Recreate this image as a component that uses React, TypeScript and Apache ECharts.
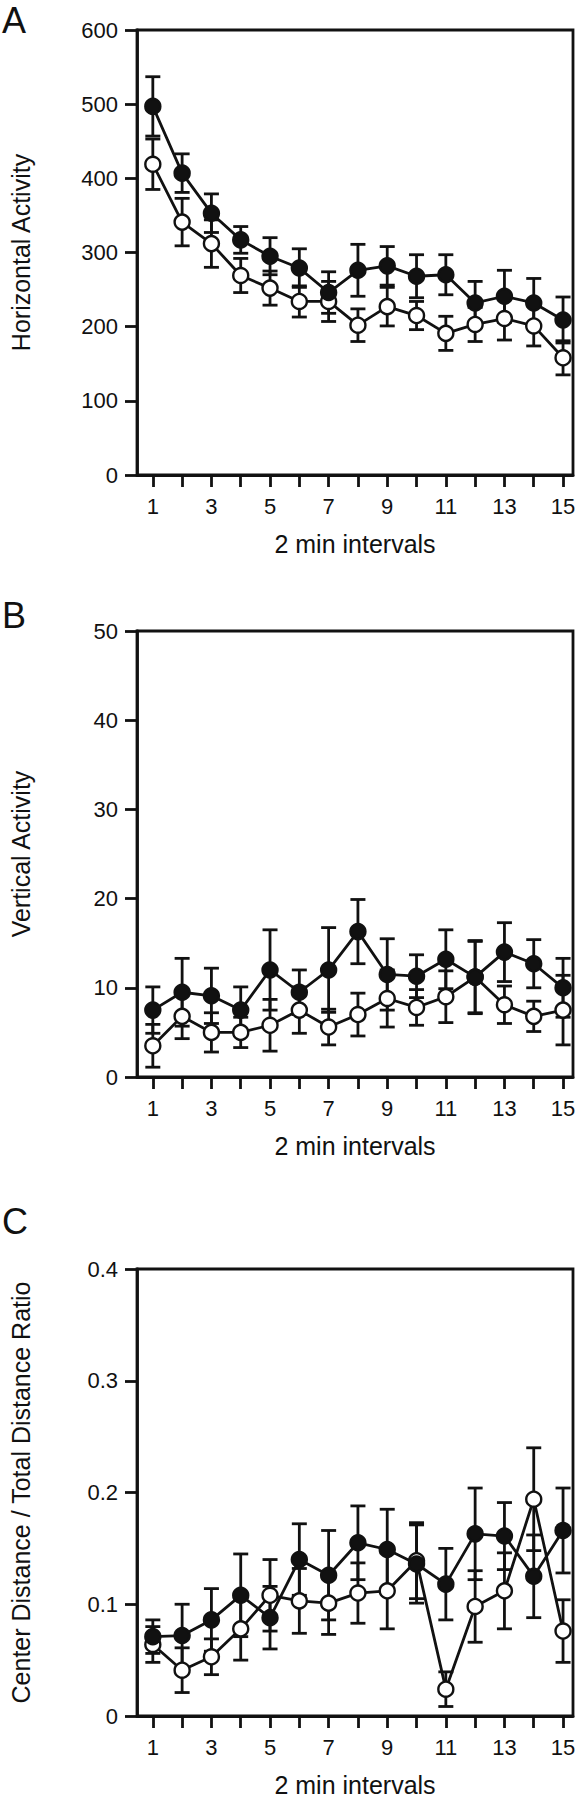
import React, { useEffect, useRef } from "react";
import * as echarts from "echarts";

const intervals = [1, 2, 3, 4, 5, 6, 7, 8, 9, 10, 11, 12, 13, 14, 15];
const oddLabels = [1, 3, 5, 7, 9, 11, 13, 15];

const hFilled = [497, 407, 353, 317, 295, 279, 246, 276, 282, 268, 270, 232, 241, 232, 209];
const hFilledErr = [40, 26, 26, 18, 25, 26, 28, 35, 26, 29, 27, 29, 35, 33, 31];
const hOpen = [419, 341, 312, 269, 252, 234, 234, 202, 227, 215, 191, 203, 211, 201, 158];
const hOpenErr = [34, 32, 32, 23, 23, 21, 27, 22, 26, 19, 23, 23, 29, 27, 23];

const vFilled = [7.5, 9.5, 9.1, 7.5, 12.0, 9.5, 12.0, 16.3, 11.5, 11.3, 13.2, 11.2, 14.0, 12.7, 10.0];
const vFilledErr = [2.6, 3.8, 3.1, 2.6, 4.5, 2.5, 4.75, 3.6, 4.0, 2.4, 3.3, 4.1, 3.3, 2.7, 3.3];
const vOpen = [3.5, 6.8, 5.0, 5.0, 5.8, 7.5, 5.6, 7.0, 8.8, 7.8, 9.0, 11.2, 8.1, 6.8, 7.5];
const vOpenErr = [2.4, 2.5, 2.2, 1.7, 2.9, 2.6, 2.0, 2.4, 3.2, 2.0, 2.9, 4.0, 2.1, 1.7, 3.9];

const cFilled = [0.071, 0.072, 0.086, 0.108, 0.088, 0.14, 0.126, 0.155, 0.149, 0.136, 0.118, 0.163, 0.161, 0.125, 0.166];
const cFilledErr = [0.015, 0.028, 0.028, 0.037, 0.028, 0.032, 0.04, 0.033, 0.036, 0.035, 0.032, 0.041, 0.03, 0.037, 0.038];
const cOpen = [0.064, 0.041, 0.053, 0.078, 0.108, 0.103, 0.101, 0.11, 0.112, 0.139, 0.024, 0.098, 0.112, 0.194, 0.076];
const cOpenErr = [0.016, 0.02, 0.016, 0.028, 0.032, 0.029, 0.028, 0.027, 0.034, 0.034, 0.0155, 0.032, 0.034, 0.046, 0.028];

const panelLetters = ["A", "B", "C"];
const yTitles = ["Horizontal Activity", "Vertical Activity", "Center Distance / Total Distance Ratio"];
const xTitle = "2 min intervals";
const yMax = [600, 50, 0.4];
const yStep = [100, 10, 0.1];

const FONT = "'Liberation Sans', Arial, Helvetica, sans-serif";
const INK = "#111";
const LW = 2.8;

export default function App() {
  const ref = useRef<HTMLDivElement>(null);
  useEffect(() => {
    document.body.style.margin = "0";
    const chart = echarts.init(ref.current!, null, { renderer: "svg" });

    const panels = [
      { filled: hFilled, filledErr: hFilledErr, open: hOpen, openErr: hOpenErr },
      { filled: vFilled, filledErr: vFilledErr, open: vOpen, openErr: vOpenErr },
      { filled: cFilled, filledErr: cFilledErr, open: cOpen, openErr: cOpenErr },
    ];
    const tops = [30, 631, 1269];
    const heights = [445, 446, 447];

    const grid = tops.map((t, i) => ({
      left: 129,
      top: t,
      width: 444,
      height: heights[i],
      show: true,
      borderColor: INK,
      borderWidth: LW,
      backgroundColor: "transparent",
    }));

    const xAxis = tops.map((_, i) => ({
      type: "value",
      gridIndex: i,
      min: 0.46,
      max: 15.34,
      name: xTitle,
      nameLocation: "middle",
      nameGap: 56,
      nameTextStyle: { fontFamily: FONT, fontSize: 25, color: INK },
      axisLine: { show: true, lineStyle: { color: INK, width: LW } },
      axisTick: { show: true, inside: false, length: 12, customValues: intervals, lineStyle: { color: INK, width: LW } },
      axisLabel: { show: true, margin: 20, customValues: oddLabels, fontFamily: FONT, fontSize: 22, color: INK },
      splitLine: { show: false },
    }));

    const yAxis = tops.map((_, i) => ({
      type: "value",
      gridIndex: i,
      min: 0,
      max: yMax[i],
      interval: yStep[i],
      name: yTitles[i],
      nameLocation: "middle",
      nameGap: 104,
      nameTextStyle: { fontFamily: FONT, fontSize: 25, color: INK },
      axisLine: { show: true, lineStyle: { color: INK, width: LW } },
      axisTick: { show: true, inside: false, length: 12, lineStyle: { color: INK, width: LW } },
      axisLabel: { show: true, margin: 19, fontFamily: FONT, fontSize: 22, color: INK },
      splitLine: { show: false },
    }));

    const errRender = (params: any, api: any) => {
      const x = api.value(0);
      const lo = api.coord([x, api.value(1)]);
      const hi = api.coord([x, api.value(2)]);
      const w = 7.5;
      const st = { stroke: INK, lineWidth: LW };
      return {
        type: "group",
        children: [
          { type: "line", shape: { x1: hi[0], y1: hi[1], x2: lo[0], y2: lo[1] }, style: st },
          { type: "line", shape: { x1: hi[0] - w, y1: hi[1], x2: hi[0] + w, y2: hi[1] }, style: st },
          { type: "line", shape: { x1: lo[0] - w, y1: lo[1], x2: lo[0] + w, y2: lo[1] }, style: st },
        ],
      };
    };

    const series: any[] = [];
    panels.forEach((p, i) => {
      const groups = [
        { vals: p.open, errs: p.openErr, fill: "#fff", z: 3 },
        { vals: p.filled, errs: p.filledErr, fill: INK, z: 4 },
      ];
      groups.forEach((g) => {
        series.push({
          type: "custom",
          xAxisIndex: i,
          yAxisIndex: i,
          renderItem: errRender,
          encode: { x: 0, y: [1, 2] },
          data: intervals.map((x, k) => [x, g.vals[k] - g.errs[k], g.vals[k] + g.errs[k]]),
          z: 2,
          silent: true,
        });
      });
      groups.forEach((g) => {
        series.push({
          type: "line",
          xAxisIndex: i,
          yAxisIndex: i,
          data: intervals.map((x, k) => [x, g.vals[k]]),
          symbol: "circle",
          symbolSize: 15,
          showSymbol: true,
          lineStyle: { color: INK, width: LW },
          itemStyle: { color: g.fill, borderColor: INK, borderWidth: 2.4 },
          z: g.z,
          silent: true,
        });
      });
    });

    const letterTops = [2, 597, 1203];
    const graphic = panelLetters.map((l, i) => ({
      type: "text",
      left: 2,
      top: letterTops[i],
      style: { text: l, fontFamily: FONT, fontSize: 36, fill: INK },
    }));

    chart.setOption({
      animation: false,
      backgroundColor: "#fff",
      grid,
      xAxis,
      yAxis,
      series,
      graphic,
    });
    return () => chart.dispose();
  }, []);
  return <div ref={ref} style={{ width: 579, height: 1800 }} />;
}
